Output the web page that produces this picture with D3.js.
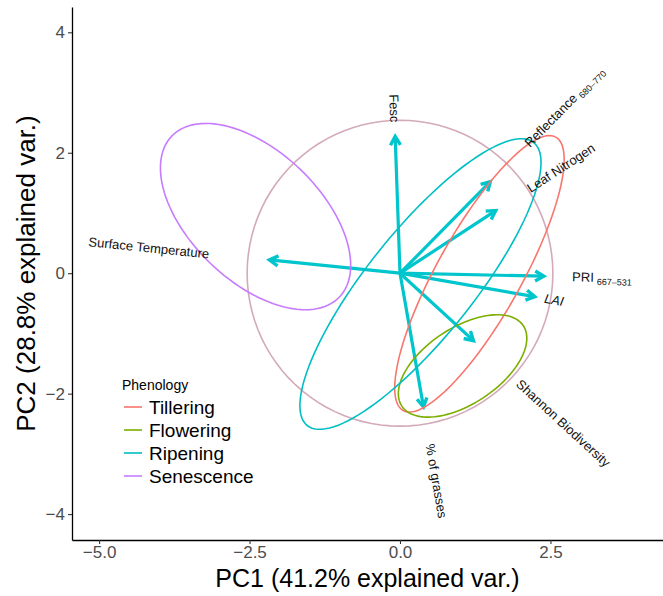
<!DOCTYPE html>
<html>
<head>
<meta charset="utf-8">
<script src="https://cdn.jsdelivr.net/npm/d3@7"></script>
<style>
  body { margin: 0; background: #fff; }
  text { font-family: 'Liberation Sans', Arial, sans-serif; }
</style>
</head>
<body>
<div class="canvas"></div>
<script>
// loadings (arrows)
const varNames = ['Fesc', 'Surface Temperature', 'Reflectance', 'Leaf Nitrogen', 'PRI', 'LAI', 'Shannon Biodiversity', '% of grasses'];
const varSubs = ['', '', '680\u2013770', '', '667\u2013531', '', '', ''];
const varItalic = [false, false, false, false, false, true, false, false];
const loadX = [-0.08, -2.17, 1.50, 1.59, 2.39, 2.24, 1.22, 0.39];
const loadY = [2.27, 0.22, 1.52, 1.04, -0.05, -0.39, -1.12, -2.22];

// group ellipses
const groups = ['Tillering', 'Flowering', 'Ripening', 'Senescence'];
const ellCx = [1.32, 1.04, 0.34, -2.40];
const ellCy = [-0.01, -1.54, -0.18, 0.94];
const ellA = [2.60, 1.21, 3.01, 1.93];
const ellB = [0.70, 0.63, 0.88, 1.08];
const ellAngle = [60.8, 33.5, 51.3, -43.8];

const circleR = 2.54;

// axes
const xTicks = [-5, -2.5, 0, 2.5];
const yTicks = [-4, -2, 0, 2, 4];
const xDomain = [-5.45, 4.37];
const yDomain = [-4.43, 4.42];

const dims = {
  width: 663,
  height: 596,
  left: 72,
  right: 663,
  top: 7,
  bottom: 540
};

const color = d3.scaleOrdinal()
  .domain(groups)
  .range(['#F8766D', '#7CAE00', '#00BFC4', '#C77CFF']);

const arrowColor = '#00C5CD';

const svg = d3
  .select('.canvas')
  .append('svg')
  .attr('width', dims.width)
  .attr('height', dims.height);

// scales
const x = d3.scaleLinear().domain(xDomain).range([dims.left, dims.right]);
const y = d3.scaleLinear().domain(yDomain).range([dims.bottom, dims.top]);

const graph = svg.append('g');

// correlation circle
const circlePts = d3.range(0, 101).map((i) => {
  const t = (i / 100) * 2 * Math.PI;
  return [circleR * Math.cos(t), circleR * Math.sin(t)];
});
const line = d3.line().x((d) => x(d[0])).y((d) => y(d[1]));

graph.append('path')
  .attr('d', line(circlePts))
  .attr('fill', 'none')
  .attr('stroke', '#D3AABB')
  .attr('stroke-width', 1.6);

// arrows
const loadings = varNames.map((name, i) => ({
  name, sub: varSubs[i], italic: varItalic[i], x: loadX[i], y: loadY[i]
}));

const arrows = graph.selectAll('g.arrow').data(loadings).enter().append('g').attr('class', 'arrow');

arrows.append('line')
  .attr('x1', x(0))
  .attr('y1', y(0))
  .attr('x2', (d) => x(d.x))
  .attr('y2', (d) => y(d.y))
  .attr('stroke', arrowColor)
  .attr('stroke-width', 3.2);

arrows.append('path')
  .attr('d', (d) => {
    const tx = x(d.x), ty = y(d.y);
    const ang = Math.atan2(ty - y(0), tx - x(0));
    const len = 10, spread = Math.PI / 6;
    const p1 = [tx - len * Math.cos(ang - spread), ty - len * Math.sin(ang - spread)];
    const p2 = [tx - len * Math.cos(ang + spread), ty - len * Math.sin(ang + spread)];
    return `M${p1[0]},${p1[1]}L${tx},${ty}L${p2[0]},${p2[1]}`;
  })
  .attr('fill', 'none')
  .attr('stroke', arrowColor)
  .attr('stroke-width', 3.4)
  .attr('stroke-linejoin', 'miter');

// ellipses
groups.forEach((g, i) => {
  const th = ellAngle[i] * Math.PI / 180;
  const pts = d3.range(0, 121).map((k) => {
    const t = (k / 120) * 2 * Math.PI;
    return [
      ellCx[i] + ellA[i] * Math.cos(th) * Math.cos(t) - ellB[i] * Math.sin(th) * Math.sin(t),
      ellCy[i] + ellA[i] * Math.sin(th) * Math.cos(t) + ellB[i] * Math.cos(th) * Math.sin(t)
    ];
  });
  graph.append('path')
    .attr('d', line(pts))
    .attr('fill', 'none')
    .attr('stroke', color(g))
    .attr('stroke-width', 1.6);
});

// variable labels, along the arrow, half a label width past the tip
const labels = graph.selectAll('text.varname').data(loadings).enter()
  .append('text')
  .attr('class', 'varname')
  .attr('font-size', 13)
  .attr('fill', '#111')
  .attr('dy', '0.35em')
  .attr('font-style', (d) => (d.italic ? 'italic' : 'normal'));

labels.append('tspan').text((d) => d.name);
labels.filter((d) => d.sub !== '')
  .append('tspan')
  .attr('font-size', 9)
  .attr('dx', 3)
  .attr('baseline-shift', '-3')
  .text((d) => d.sub);

labels.each(function (d) {
  const w = this.getComputedTextLength();
  const tx = x(d.x), ty = y(d.y);
  const angle = -Math.atan(d.y / d.x) * 180 / Math.PI;
  const sign = Math.sign(d.x);
  d3.select(this)
    .attr('text-anchor', sign > 0 ? 'start' : 'end')
    .attr('x', sign * 0.5 * w)
    .attr('y', 0)
    .attr('transform', `translate(${tx},${ty}) rotate(${angle})`);
});

// axes
const xAxis = d3.axisBottom(x).tickValues(xTicks).tickFormat(d3.format('.1f')).tickSize(4).tickSizeOuter(0).tickPadding(2);
const yAxis = d3.axisLeft(y).tickValues(yTicks).tickFormat(d3.format('d')).tickSize(4).tickSizeOuter(0).tickPadding(3);

const xAxisGroup = svg.append('g').attr('transform', `translate(0, ${dims.bottom})`).call(xAxis);
const yAxisGroup = svg.append('g').attr('transform', `translate(${dims.left}, 0)`).call(yAxis);

[xAxisGroup, yAxisGroup].forEach((g) => {
  g.select('path.domain').attr('stroke', '#000').attr('stroke-width', 1.3);
  g.selectAll('.tick line').attr('stroke', '#333').attr('stroke-width', 1.1);
  g.selectAll('.tick text')
    .attr('fill', '#4D4D4D')
    .attr('font-size', 17)
    .attr('font-family', "'Liberation Sans', Arial, sans-serif");
});

svg.append('text')
  .attr('x', (dims.left + dims.right) / 2)
  .attr('y', 587)
  .attr('text-anchor', 'middle')
  .attr('font-size', 25)
  .attr('fill', '#000')
  .text('PC1 (41.2% explained var.)');

svg.append('text')
  .attr('transform', `translate(35, ${(dims.top + dims.bottom) / 2}) rotate(-90)`)
  .attr('text-anchor', 'middle')
  .attr('font-size', 26)
  .attr('fill', '#000')
  .text('PC2 (28.8% explained var.)');

// legend
const legend = svg.append('g').attr('transform', 'translate(122, 390)');
legend.append('text')
  .attr('x', 0)
  .attr('y', 0)
  .attr('font-size', 14)
  .attr('fill', '#000')
  .text('Phenology');

const items = legend.selectAll('g.item').data(groups).enter()
  .append('g')
  .attr('class', 'item')
  .attr('transform', (d, i) => `translate(0, ${17 + i * 23})`);

items.append('line')
  .attr('x1', 2).attr('x2', 20)
  .attr('y1', 0).attr('y2', 0)
  .attr('stroke', (d) => color(d))
  .attr('stroke-width', 1.6);

items.append('text')
  .attr('x', 27)
  .attr('y', 0)
  .attr('dy', '0.35em')
  .attr('font-size', 19)
  .attr('fill', '#000')
  .text((d) => d);
</script>
</body>
</html>
